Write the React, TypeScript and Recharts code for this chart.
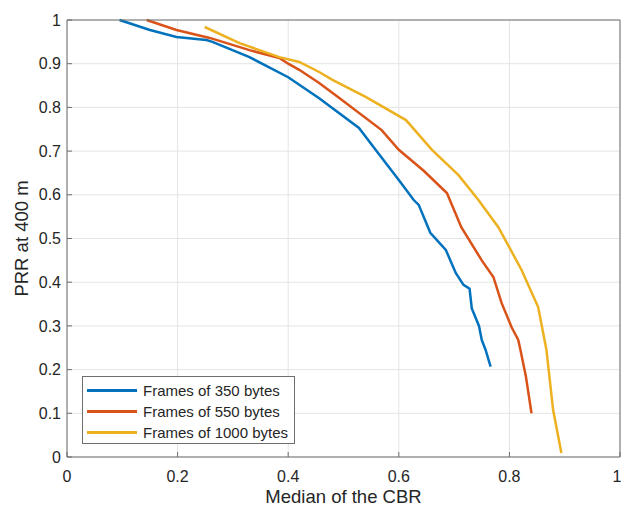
import { LineChart, Line, XAxis, YAxis, CartesianGrid } from 'recharts';

// Median CBR (x) vs PRR at 400 m (y)
const cbr350 = [0.095, 0.15, 0.198, 0.252, 0.263, 0.33, 0.4, 0.456, 0.528, 0.558, 0.6, 0.627, 0.636, 0.657, 0.685, 0.703, 0.717, 0.728, 0.732, 0.745, 0.75, 0.757, 0.766];
const prr350 = [1.0, 0.977, 0.961, 0.954, 0.95, 0.915, 0.869, 0.821, 0.753, 0.703, 0.634, 0.588, 0.577, 0.513, 0.474, 0.421, 0.394, 0.385, 0.34, 0.3, 0.268, 0.245, 0.207];

const cbr550 = [0.144, 0.198, 0.258, 0.33, 0.384, 0.4, 0.42, 0.456, 0.49, 0.569, 0.6, 0.645, 0.687, 0.713, 0.75, 0.771, 0.786, 0.804, 0.816, 0.82, 0.83, 0.84];
const prr550 = [1.0, 0.977, 0.959, 0.931, 0.913, 0.9, 0.886, 0.856, 0.824, 0.748, 0.703, 0.655, 0.604, 0.526, 0.45, 0.412, 0.352, 0.297, 0.268, 0.245, 0.183, 0.1];

const cbr1000 = [0.249, 0.312, 0.384, 0.42, 0.456, 0.48, 0.54, 0.613, 0.66, 0.708, 0.744, 0.78, 0.822, 0.852, 0.867, 0.879, 0.894];
const prr1000 = [0.984, 0.947, 0.915, 0.904, 0.881, 0.863, 0.824, 0.771, 0.703, 0.645, 0.588, 0.526, 0.428, 0.343, 0.245, 0.108, 0.009];

const xTicks = [0, 0.2, 0.4, 0.6, 0.8, 1];
const yTicks = [0, 0.1, 0.2, 0.3, 0.4, 0.5, 0.6, 0.7, 0.8, 0.9, 1];

const toPoints = (xs: number[], ys: number[]) => xs.map((x, i) => ({ x, y: ys[i] }));

const SERIES = [
  { name: 'Frames of 350 bytes', color: '#0072BD', data: toPoints(cbr350, prr350) },
  { name: 'Frames of 550 bytes', color: '#D95319', data: toPoints(cbr550, prr550) },
  { name: 'Frames of 1000 bytes', color: '#EDB120', data: toPoints(cbr1000, prr1000) },
];

const FONT = '"Liberation Sans", Arial, sans-serif';
const AXIS = '#6e6e6e';
const TEXT = '#262626';

const fmt = (v: number) => String(v);

function MatlabLegend() {
  return (
    <div
      style={{
        position: 'absolute',
        left: 82,
        top: 376,
        width: 211,
        height: 63,
        border: `1px solid ${AXIS}`,
        background: '#fff',
        fontFamily: FONT,
        fontSize: 15,
        color: TEXT,
        paddingTop: 3,
        whiteSpace: 'nowrap',
      }}
    >
      {SERIES.map((s) => (
        <div key={s.name} style={{ display: 'flex', alignItems: 'center', height: 21 }}>
          <span style={{ display: 'inline-block', width: 50, height: 3, marginLeft: 4, marginRight: 6, background: s.color }} />
          {s.name}
        </div>
      ))}
    </div>
  );
}

export default function App() {
  return (
    <div style={{ position: 'absolute', left: 0, top: 0, width: 621, height: 506, background: '#fff', overflow: 'hidden' }}>
      <LineChart width={621} height={506} margin={{ top: 19, right: 0, bottom: 0, left: 0 }}>
        <CartesianGrid stroke="#e4e4e4" />
        <XAxis
          dataKey="x"
          type="number"
          domain={[0, 1]}
          ticks={xTicks}
          tickFormatter={fmt}
          height={49}
          tickSize={-5}
          tickMargin={19}
          tick={{ fill: TEXT, fontSize: 16, fontFamily: FONT }}
          stroke={AXIS}
          label={{ value: 'Median of the CBR', position: 'center', dy: 15, fill: TEXT, fontSize: 18.5, fontFamily: FONT }}
        />
        <XAxis
          xAxisId="top"
          orientation="top"
          type="number"
          domain={[0, 1]}
          ticks={xTicks}
          height={1}
          tick={false}
          tickSize={-5}
          stroke={AXIS}
        />
        <YAxis
          type="number"
          domain={[0, 1]}
          ticks={yTicks}
          tickFormatter={fmt}
          width={67}
          tickSize={-5}
          tickMargin={11}
          tick={{ fill: TEXT, fontSize: 16, fontFamily: FONT }}
          stroke={AXIS}
          label={{ value: 'PRR at 400 m', angle: -90, position: 'center', dx: -12, fill: TEXT, fontSize: 18.5, fontFamily: FONT }}
        />
        <YAxis
          yAxisId="right"
          orientation="right"
          type="number"
          domain={[0, 1]}
          ticks={yTicks}
          width={1}
          tick={false}
          tickSize={-5}
          stroke={AXIS}
        />
        {SERIES.map((s) => (
          <Line
            key={s.name}
            data={s.data}
            dataKey="y"
            name={s.name}
            type="linear"
            stroke={s.color}
            strokeWidth={2.5}
            dot={false}
            activeDot={false}
            isAnimationActive={false}
          />
        ))}
      </LineChart>
      <MatlabLegend />
    </div>
  );
}
